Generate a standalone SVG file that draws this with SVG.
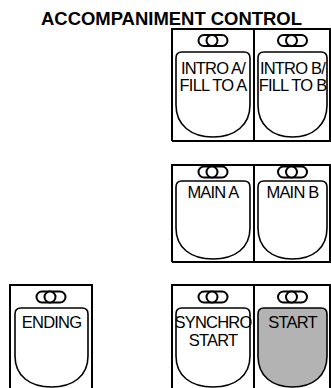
<svg xmlns="http://www.w3.org/2000/svg" width="331" height="388" viewBox="0 0 331 388">
<style>
.box{fill:none;stroke:#000;stroke-width:2}
.key{fill:#fff;stroke:#000;stroke-width:1.6}
.on{fill:#b3b3b3}
.led{fill:#fff;stroke:#000;stroke-width:2}
.lbl{font-family:"Liberation Sans",Arial,sans-serif;font-size:16.5px;letter-spacing:-0.8px;text-anchor:middle;fill:#000}
.ttl{font-family:"Liberation Sans",Arial,sans-serif;font-size:18px;font-weight:bold;text-anchor:middle;fill:#000}
</style>
<defs>
<g id="ledshape">
<rect x="-14.5" y="-5.5" width="29" height="11" rx="5.5" class="led"/>
<circle cx="-1" cy="0" r="5.5" class="led"/>
</g>
</defs>
<text class="ttl" x="171.5" y="25" textLength="261" lengthAdjust="spacingAndGlyphs">ACCOMPANIMENT CONTROL</text>
<g id="frames">
<path class="box" d="M172,141 V29 H331 M254,29 V141 M330,29 V141 M172,141 H331"/>
<path class="box" d="M172,262 V165 H331 M254,165 V262 M330,165 V262 M172,262 H331"/>
<path class="box" d="M172,388 V285 H331 M254,285 V388 M330,285 V388"/>
<path class="box" d="M10,388 V285 H92 V388"/>
</g>
<g id="intro-a">
<use href="#ledshape" x="213" y="40.5"/>
<path class="key" d="M176,58 Q176,52 182,52 H244 Q250,52 250,58 V105 C250,125 235,137 213,137 C191,137 176,125 176,105 Z"/>
<text class="lbl" x="213" y="74">INTRO A/</text>
<text class="lbl" x="213" y="91">FILL TO A</text>
</g>
<g id="intro-b">
<use href="#ledshape" x="292.5" y="40.5"/>
<path class="key" d="M258,58 Q258,52 264,52 H321 Q327,52 327,58 V105 C327,125 313,137 292.5,137 C272,137 258,125 258,105 Z"/>
<text class="lbl" x="292.5" y="74">INTRO B/</text>
<text class="lbl" x="292.5" y="91">FILL TO B</text>
</g>
<g id="main-a">
<use href="#ledshape" x="213" y="172"/>
<path class="key" d="M176,187 Q176,181 182,181 H244 Q250,181 250,187 V228 C250,248 235,259 213,259 C191,259 176,248 176,228 Z"/>
<text class="lbl" x="213" y="198">MAIN A</text>
</g>
<g id="main-b">
<use href="#ledshape" x="292.5" y="172"/>
<path class="key" d="M258,187 Q258,181 264,181 H321 Q327,181 327,187 V228 C327,248 313,259 292.5,259 C272,259 258,248 258,228 Z"/>
<text class="lbl" x="292.5" y="198">MAIN B</text>
</g>
<g id="ending">
<use href="#ledshape" x="51" y="297"/>
<path class="key" d="M15,314 Q15,308 21,308 H82 Q88,308 88,314 V356 C88,376 73,387 51.5,387 C30,387 15,376 15,356 Z"/>
<text class="lbl" x="51.5" y="328">ENDING</text>
</g>
<g id="synchro-start">
<use href="#ledshape" x="213" y="297"/>
<path class="key" d="M176,314 Q176,308 182,308 H244 Q250,308 250,314 V356 C250,376 235,387 213,387 C191,387 176,376 176,356 Z"/>
<text class="lbl" x="213" y="328">SYNCHRO</text>
<text class="lbl" x="213" y="346">START</text>
</g>
<g id="start">
<use href="#ledshape" x="292.5" y="297"/>
<path class="key on" d="M258,314 Q258,308 264,308 H321 Q327,308 327,314 V356 C327,376 313,387 292.5,387 C272,387 258,376 258,356 Z" style="stroke:#000;stroke-width:1.6"/>
<text class="lbl" x="292.5" y="328">START</text>
</g>
</svg>
